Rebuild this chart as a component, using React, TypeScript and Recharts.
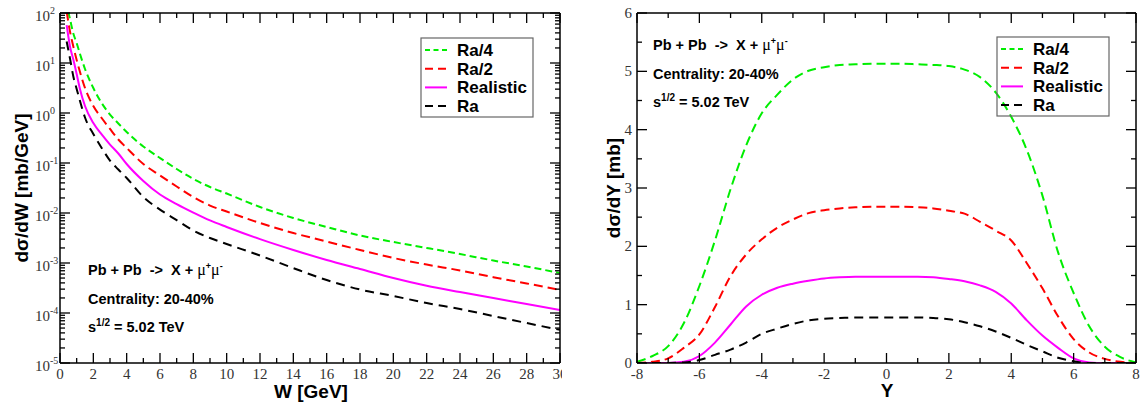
import React from "react";
import { LineChart, Line, XAxis, YAxis } from "recharts";

// ---- left panel: dσ/dW vs W (log y) ----
const wValues = [0.4, 0.5, 0.6, 0.8, 1, 1.2, 1.5, 2, 2.5, 3, 3.5, 4, 5, 6, 7, 8, 9, 10, 12, 14, 16, 18, 20, 22, 24, 26, 28, 30];
const wRa4 = [178, 107, 75.9, 38.9, 25.1, 15.1, 7.59, 3.16, 1.58, 0.933, 0.617, 0.417, 0.214, 0.126, 0.0759, 0.0479, 0.0331, 0.0245, 0.0132, 7.94e-3, 5.25e-3, 3.55e-3, 2.63e-3, 2.0e-3, 1.51e-3, 1.12e-3, 8.5e-4, 6.3e-4];
const wRa2 = [107, 66, 42.7, 21.4, 11.5, 6.6, 3.16, 1.38, 0.794, 0.479, 0.295, 0.2, 0.0955, 0.0562, 0.0339, 0.0209, 0.0141, 0.0107, 6.3e-3, 3.98e-3, 2.69e-3, 1.82e-3, 1.26e-3, 9.3e-4, 7.1e-4, 5.2e-4, 3.9e-4, 2.9e-4];
const wReal = [57.5, 33.9, 21.4, 11.7, 6.0, 3.0, 1.38, 0.631, 0.372, 0.234, 0.155, 0.0955, 0.0437, 0.0234, 0.0151, 0.0102, 7.1e-3, 5.25e-3, 3.0e-3, 1.82e-3, 1.15e-3, 7.6e-4, 5.0e-4, 3.5e-4, 2.63e-4, 2.0e-4, 1.51e-4, 1.15e-4];
const wRa = [26.9, 18.2, 12.3, 5.37, 3.02, 1.74, 0.813, 0.38, 0.2, 0.112, 0.0741, 0.0501, 0.0209, 0.0117, 7.2e-3, 4.47e-3, 3.16e-3, 2.4e-3, 1.41e-3, 7.9e-4, 4.57e-4, 2.95e-4, 2.19e-4, 1.58e-4, 1.2e-4, 8.7e-5, 6.3e-5, 4.6e-5];

// ---- right panel: dσ/dY vs Y ----
const yValues = [-8, -7.5, -7, -6.5, -6, -5.5, -5, -4.5, -4, -3.5, -3, -2.5, -2, -1.5, -1, -0.5, 0, 0.5, 1, 1.5, 2, 2.5, 3, 3.5, 4, 4.5, 5, 5.5, 6, 6.5, 7, 7.5, 8];
const yRa4 = [0.02, 0.12, 0.29, 0.68, 1.32, 2.1, 2.98, 3.73, 4.28, 4.6, 4.86, 5.01, 5.07, 5.11, 5.12, 5.13, 5.13, 5.13, 5.12, 5.11, 5.09, 5.03, 4.9, 4.64, 4.22, 3.65, 2.87, 1.9, 1.2, 0.63, 0.28, 0.1, 0.01];
const yRa2 = [0.0, 0.02, 0.08, 0.26, 0.49, 0.96, 1.49, 1.86, 2.12, 2.32, 2.46, 2.57, 2.62, 2.65, 2.67, 2.68, 2.68, 2.68, 2.67, 2.65, 2.61, 2.56, 2.42, 2.27, 2.1, 1.71, 1.28, 0.8, 0.41, 0.18, 0.07, 0.02, 0.0];
const yReal = [0, 0, 0, 0.02, 0.12, 0.35, 0.66, 0.97, 1.17, 1.29, 1.36, 1.41, 1.45, 1.47, 1.48, 1.48, 1.48, 1.48, 1.48, 1.47, 1.44, 1.4, 1.33, 1.22, 1.02, 0.73, 0.47, 0.26, 0.08, 0.01, 0, 0, 0];
const yRa = [0, 0, 0, 0.01, 0.05, 0.14, 0.23, 0.35, 0.5, 0.59, 0.67, 0.73, 0.76, 0.77, 0.78, 0.78, 0.78, 0.78, 0.78, 0.77, 0.75, 0.7, 0.63, 0.54, 0.43, 0.31, 0.2, 0.09, 0.03, 0.0, 0, 0, 0];

// ticks
const wTicks = [0, 1, 2, 3, 4, 5, 6, 7, 8, 9, 10, 11, 12, 13, 14, 15, 16, 17, 18, 19, 20, 21, 22, 23, 24, 25, 26, 27, 28, 29, 30];
const decades = [-5, -4, -3, -2, -1, 0, 1];
const logTicks = [...decades.flatMap((d) => [1, 2, 3, 4, 5, 6, 7, 8, 9].map((m) => m * Math.pow(10, d))), 100];
const yTicksX = [-8, -7, -6, -5, -4, -3, -2, -1, 0, 1, 2, 3, 4, 5, 6, 7, 8];
const yTicksY = [0, 0.5, 1, 1.5, 2, 2.5, 3, 3.5, 4, 4.5, 5, 5.5, 6];

const legendItems = [
  { name: "Ra/4", color: "#00ee00", dash: "5 3.5" },
  { name: "Ra/2", color: "#ff0000", dash: "8 5" },
  { name: "Realistic", color: "#ff00ff", dash: "" },
  { name: "Ra", color: "#000000", dash: "8 5" },
];

const wData = wValues.map((w, i) => ({ w, ra4: wRa4[i], ra2: wRa2[i], real: wReal[i], ra: wRa[i] }));
const yData = yValues.map((y, i) => ({ y, ra4: yRa4[i], ra2: yRa2[i], real: yReal[i], ra: yRa[i] }));

const serif = "'Liberation Serif', 'Times New Roman', serif";
const sans = "'Liberation Sans', Arial, Helvetica, sans-serif";
const tickColor = "#333";

const isLogMajor = (v: number) => Math.abs(Math.log10(v) - Math.round(Math.log10(v))) < 1e-6;

// ticks point inwards, labels only on majors
function makeTick(side: "bottom" | "top" | "left" | "right", isMajor: (v: number) => boolean, label?: (v: number, x: number, y: number) => React.ReactNode) {
  return (p: any) => {
    const { x, y, payload } = p;
    const v = payload.value as number;
    const len = isMajor(v) ? 10 : 5;
    let x2 = x, y2 = y;
    if (side === "bottom") y2 = y - len;
    if (side === "top") y2 = y + len;
    if (side === "left") x2 = x + len;
    if (side === "right") x2 = x - len;
    return (
      <g>
        <line x1={x} y1={y} x2={x2} y2={y2} stroke="#000" strokeWidth={1.3} />
        {label && isMajor(v) ? label(v, x, y) : null}
      </g>
    );
  };
}

const bottomLabel = (v: number, x: number, y: number) => (
  <text x={x} y={y + 16} textAnchor="middle" fontFamily={serif} fontSize={15} fill={tickColor}>{v}</text>
);
const logLabel = (v: number, x: number, y: number) => (
  <text x={x - 25} y={y + 8} fontFamily={serif} fontSize={15} fill={tickColor}>
    10<tspan dy={-7} fontSize={10}>{Math.round(Math.log10(v))}</tspan>
  </text>
);
const linLabel = (v: number, x: number, y: number) => (
  <text x={x - 5} y={y + 5} textAnchor="end" fontFamily={serif} fontSize={15} fill={tickColor}>{v}</text>
);

function Legend({ x, y }: { x: number; y: number }) {
  return (
    <g>
      <rect x={x} y={y} width={112} height={79} fill="none" stroke="#666" strokeWidth={1.2} />
      {legendItems.map((it, i) => (
        <g key={it.name}>
          <line x1={x + 4} x2={x + 26} y1={y + 12 + i * 18.7} y2={y + 12 + i * 18.7} stroke={it.color} strokeWidth={2} strokeDasharray={it.dash || undefined} />
          <text x={x + 36} y={y + 18 + i * 18.7} fontFamily={sans} fontWeight="bold" fontSize={17} fill="#000">{it.name}</text>
        </g>
      ))}
    </g>
  );
}

function Notes({ x, y }: { x: number; y: number }) {
  const st = { fontFamily: sans, fontWeight: "bold" as const, fontSize: 14.5, fill: "#000" };
  return (
    <g>
      <text x={x} y={y} {...st} xmlSpace="preserve">
        {"Pb + Pb  ->  X + "}
        <tspan fontFamily={serif} fontWeight="normal" fontSize={16}>μ</tspan>
        <tspan dy={-6} fontSize={9}>+</tspan>
        <tspan dy={6} fontFamily={serif} fontWeight="normal" fontSize={16}>μ</tspan>
        <tspan dy={-6} fontSize={9}>-</tspan>
      </text>
      <text x={x} y={y + 28.5} {...st}>Centrality: 20-40%</text>
      <text x={x} y={y + 57} {...st}>
        s<tspan dy={-6} fontSize={10}>1/2</tspan>
        <tspan dy={6}> = 5.02 TeV</tspan>
      </text>
    </g>
  );
}

export default function App() {
  const lineCommon = { dot: false, isAnimationActive: false, type: "monotone" as const, strokeWidth: 2, xAxisId: "b", yAxisId: "l" };
  const axisLine = { stroke: "#000", strokeWidth: 1.5 };
  return (
    <div style={{ position: "absolute", left: 0, top: 0, width: 1143, height: 406, background: "#fff" }}>
      <div style={{ position: "absolute", left: 0, top: 0 }}>
        <LineChart width={562} height={406} data={wData} margin={{ top: 0, right: 0, bottom: 0, left: 0 }} accessibilityLayer={false}>
          <XAxis xAxisId="b" dataKey="w" type="number" domain={[0, 30]} allowDataOverflow ticks={wTicks} interval={0} height={43}
            tickSize={0} tickMargin={0} tickLine={false} axisLine={axisLine}
            tick={makeTick("bottom", (v) => v % 2 === 0, bottomLabel)} />
          <XAxis xAxisId="t" dataKey="w" orientation="top" type="number" domain={[0, 30]} allowDataOverflow ticks={wTicks} interval={0} height={13}
            tickSize={0} tickMargin={0} tickLine={false} axisLine={axisLine}
            tick={makeTick("top", (v) => v % 2 === 0)} />
          <YAxis yAxisId="l" scale="log" type="number" domain={[1e-5, 100]} allowDataOverflow ticks={logTicks} interval={0} width={60}
            tickSize={0} tickMargin={0} tickLine={false} axisLine={axisLine}
            tick={makeTick("left", isLogMajor, logLabel)} />
          <YAxis yAxisId="r" orientation="right" scale="log" type="number" domain={[1e-5, 100]} allowDataOverflow ticks={logTicks} interval={0} width={2}
            tickSize={0} tickMargin={0} tickLine={false} axisLine={axisLine}
            tick={makeTick("right", isLogMajor)} />
          {/* invisible series so the top/right frame axes get a proper scale */}
          <Line dataKey="ra" xAxisId="t" yAxisId="r" stroke="none" dot={false} isAnimationActive={false} />
          <Line {...lineCommon} dataKey="ra4" stroke="#00ee00" strokeDasharray="7 4" />
          <Line {...lineCommon} dataKey="ra2" stroke="#ff0000" strokeDasharray="9 5" />
          <Line {...lineCommon} dataKey="real" stroke="#ff00ff" />
          <Line {...lineCommon} dataKey="ra" stroke="#000000" strokeDasharray="9 6" />
        </LineChart>
      </div>
      <div style={{ position: "absolute", left: 577, top: 0 }}>
        <LineChart width={566} height={406} data={yData} margin={{ top: 0, right: 0, bottom: 0, left: 0 }} accessibilityLayer={false}>
          <XAxis xAxisId="b" dataKey="y" type="number" domain={[-8, 8]} allowDataOverflow ticks={yTicksX} interval={0} height={43}
            tickSize={0} tickMargin={0} tickLine={false} axisLine={axisLine}
            tick={makeTick("bottom", (v) => v % 2 === 0, bottomLabel)} />
          <XAxis xAxisId="t" dataKey="y" orientation="top" type="number" domain={[-8, 8]} allowDataOverflow ticks={yTicksX} interval={0} height={13}
            tickSize={0} tickMargin={0} tickLine={false} axisLine={axisLine}
            tick={makeTick("top", (v) => v % 2 === 0)} />
          <YAxis yAxisId="l" type="number" domain={[0, 6]} allowDataOverflow ticks={yTicksY} interval={0} width={60}
            tickSize={0} tickMargin={0} tickLine={false} axisLine={axisLine}
            tick={makeTick("left", (v) => Number.isInteger(v), linLabel)} />
          <YAxis yAxisId="r" orientation="right" type="number" domain={[0, 6]} allowDataOverflow ticks={yTicksY} interval={0} width={7}
            tickSize={0} tickMargin={0} tickLine={false} axisLine={axisLine}
            tick={makeTick("right", (v) => Number.isInteger(v))} />
          <Line dataKey="ra" xAxisId="t" yAxisId="r" stroke="none" dot={false} isAnimationActive={false} />
          <Line {...lineCommon} dataKey="ra4" stroke="#00ee00" strokeDasharray="9 5" />
          <Line {...lineCommon} dataKey="ra2" stroke="#ff0000" strokeDasharray="9 5" />
          <Line {...lineCommon} dataKey="real" stroke="#ff00ff" />
          <Line {...lineCommon} dataKey="ra" stroke="#000000" strokeDasharray="9 6" />
        </LineChart>
      </div>
      <svg width={1143} height={406} style={{ position: "absolute", left: 0, top: 0, pointerEvents: "none" }}>
        <text transform="rotate(-90 28 188)" x={28} y={188} textAnchor="middle" fontFamily={sans} fontWeight="bold" fontSize={19}>dσ/dW [mb/GeV]</text>
        <text x={311} y={398} textAnchor="middle" fontFamily={sans} fontWeight="bold" fontSize={19}>W [GeV]</text>
        <text transform="rotate(-90 620 188)" x={620} y={188} textAnchor="middle" fontFamily={sans} fontWeight="bold" fontSize={19}>dσ/dY [mb]</text>
        <text x={887} y={397} textAnchor="middle" fontFamily={sans} fontWeight="bold" fontSize={19}>Y</text>
        <Legend x={421} y={38} />
        <Legend x={997} y={37} />
        <Notes x={88} y={275} />
        <Notes x={653} y={50} />
      </svg>
    </div>
  );
}
